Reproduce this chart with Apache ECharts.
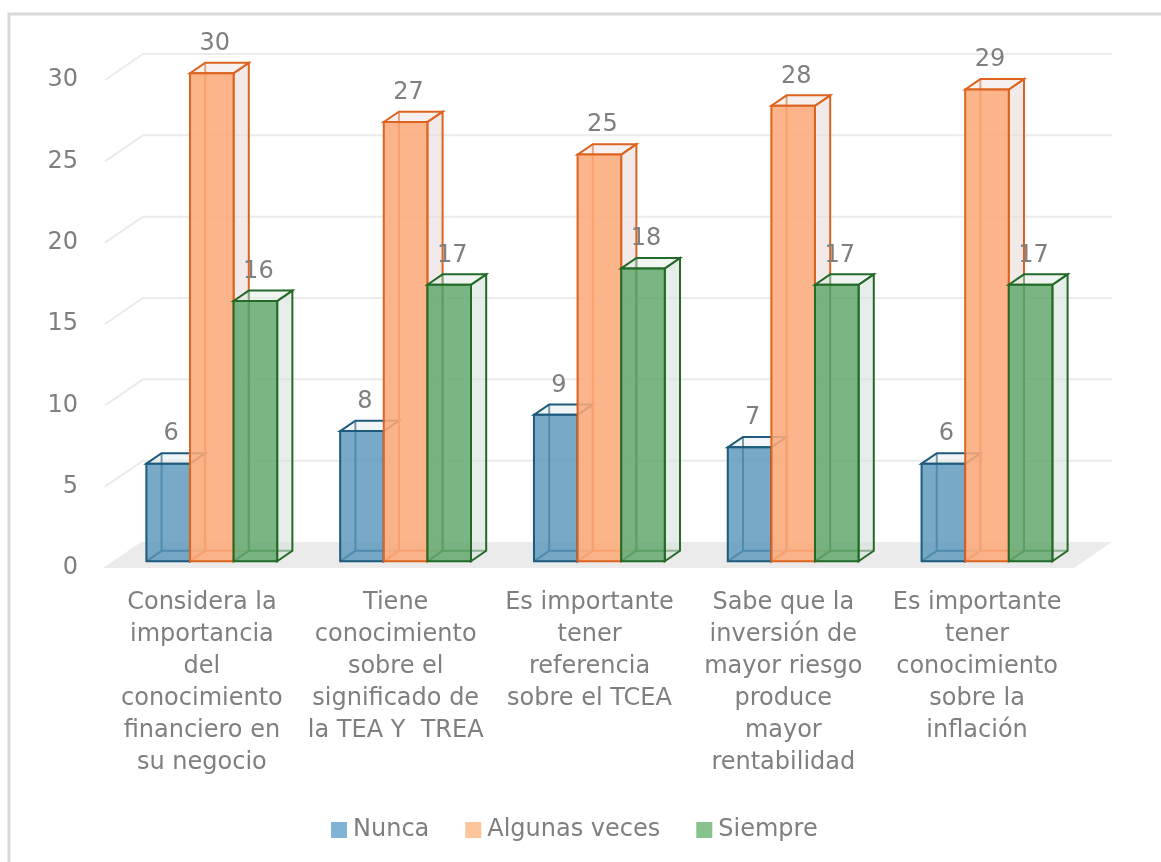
<!DOCTYPE html>
<html>
<head>
<meta charset="utf-8">
<script src="https://cdn.jsdelivr.net/npm/echarts@6/dist/echarts.min.js"></script>
<style>
html,body{margin:0;padding:0;background:#fff;}
#chart{width:1161px;height:862px;}
</style>
</head>
<body>
<div id="chart"></div>
<script>
var categories = [
  "Considera la\nimportancia\ndel\nconocimiento\nfinanciero en\nsu negocio",
  "Tiene\nconocimiento\nsobre el\nsignificado de\nla TEA Y  TREA",
  "Es importante\ntener\nreferencia\nsobre el TCEA",
  "Sabe que la\ninversión de\nmayor riesgo\nproduce\nmayor\nrentabilidad",
  "Es importante\ntener\nconocimiento\nsobre la\ninflación"
];
var seriesNames = ["Nunca", "Algunas veces", "Siempre"];
var nunca = [6, 8, 9, 7, 6];
var algunasVeces = [30, 27, 25, 28, 29];
var siempre = [16, 17, 18, 17, 17];
var yTicks = [0, 5, 10, 15, 20, 25, 30];

var FONT = "'DejaVu Sans', sans-serif";
var FS = 24;
var TXT = '#7f7f7f';
var DEPTH = [38, -26];           // wall depth vector
var BAR_OFF = 0.26, BAR_DEPTH = 0.4;
var styles = [
  {legend:'#80b4d4', fill:'rgba(90,150,185,0.82)', stroke:'#1d5a7c', side:'rgba(215,222,225,0.55)', top:'rgba(225,232,236,0.45)'},
  {legend:'#fdc59b', fill:'rgba(252,170,122,0.88)', stroke:'#dd6420', side:'rgba(232,220,216,0.6)', top:'rgba(238,228,224,0.5)'},
  {legend:'#88c28d', fill:'rgba(100,168,110,0.85)', stroke:'#236a29', side:'rgba(215,225,217,0.6)', top:'rgba(225,235,227,0.5)'}
];

function barRender(sIdx) {
  return function (params, api) {
    var cat = api.value(0), val = api.value(1);
    var base = api.coord([cat, 0]);
    var topP = api.coord([cat, val]);
    var bw = api.size([1, 0])[0] * 0.225;
    var fx = base[0] + (sIdx - 1.5) * bw + DEPTH[0] * BAR_OFF;
    var ddx = DEPTH[0] * BAR_DEPTH, ddy = DEPTH[1] * BAR_DEPTH;
    var oy = DEPTH[1] * BAR_OFF;
    var yb = base[1] + oy, yt = topP[1] + oy;
    var x0 = fx, x1 = fx + bw;
    var st = styles[sIdx];
    var lw = 2;
    return {
      type: 'group',
      children: [
        {type:'polyline', shape:{points:[[x0+ddx,yb+ddy],[x0+ddx,yt+ddy]]}, style:{stroke:st.stroke, lineWidth:lw, fill:null}},
        {type:'polyline', shape:{points:[[x0,yb],[x0+ddx,yb+ddy],[x1+ddx,yb+ddy]]}, style:{stroke:st.stroke, lineWidth:lw, fill:null}},
        {type:'polygon', shape:{points:[[x1,yb],[x1+ddx,yb+ddy],[x1+ddx,yt+ddy],[x1,yt]]}, style:{fill:st.side, stroke:st.stroke, lineWidth:lw}},
        {type:'polygon', shape:{points:[[x0,yt],[x0+ddx,yt+ddy],[x1+ddx,yt+ddy],[x1,yt]]}, style:{fill:st.top, stroke:st.stroke, lineWidth:lw}},
        {type:'rect', shape:{x:x0, y:yt, width:bw, height:yb-yt}, style:{fill:st.fill, stroke:st.stroke, lineWidth:lw}},
        {type:'text', x: x0 + bw/2 + 3, y: yt + ddy - 19, style:{text:String(val), fill:TXT, font:FS + 'px ' + FONT, align:'center', verticalAlign:'middle'}}
      ]
    };
  };
}

function wallRender(params, api) {
  var v = api.value(0);
  var cs = params.coordSys;
  var y = api.coord([0, v])[1];
  var xl = cs.x, xr = cs.x + cs.width;
  if (v === 0) {
    return {type:'polygon', shape:{points:[[xl-2,y],[xl+DEPTH[0]-2,y+DEPTH[1]],[xr+DEPTH[0],y+DEPTH[1]],[xr,y]]}, style:{fill:'#ebebeb', stroke:null}};
  }
  return {type:'polyline', shape:{points:[[xl,y],[xl+DEPTH[0],y+DEPTH[1]],[xr+DEPTH[0],y+DEPTH[1]]]}, style:{stroke:'#ebebeb', lineWidth:2, fill:null}};
}

var seriesData = [nunca, algunasVeces, siempre];
var series = [{
  type:'custom', name:'walls', renderItem: wallRender, silent:true, z:1,
  data: yTicks.map(function(t){return [t];}), encode:{y:0}
}];
seriesData.forEach(function(arr, i){
  series.push({
    type:'custom', name: seriesNames[i], z: 2 + i,
    itemStyle:{color: styles[i].legend},
    renderItem: barRender(i),
    data: arr.map(function(v, c){return [c, v];}),
    encode:{x:0, y:1}
  });
});

var chart = echarts.init(document.getElementById('chart'));
chart.setOption({
  animation:false,
  backgroundColor:'#fff',
  graphic:[{type:'rect', shape:{x:9, y:14, width:1200, height:900}, style:{fill:null, stroke:'#d9d9d9', lineWidth:3}, silent:true}],
  grid:{left:105, right:87, top:80, bottom:294},
  legend:{
    data: seriesNames, left:326, top:813, itemWidth:16, itemHeight:16, itemGap:36, icon:'rect',
    textStyle:{fontSize:FS, color:TXT, fontFamily:FONT, padding:[0,0,0,1]}
  },
  xAxis:{
    type:'category', data: categories,
    axisLine:{show:false}, axisTick:{show:false},
    axisLabel:{fontSize:FS, lineHeight:32, color:TXT, fontFamily:FONT, margin:19, interval:0}
  },
  yAxis:{
    type:'value', min:0, max:30, interval:5,
    axisLine:{show:false}, axisTick:{show:false}, splitLine:{show:false},
    axisLabel:{fontSize:FS, color:TXT, fontFamily:FONT, margin:27}
  },
  series: series
});
</script>
</body>
</html>
